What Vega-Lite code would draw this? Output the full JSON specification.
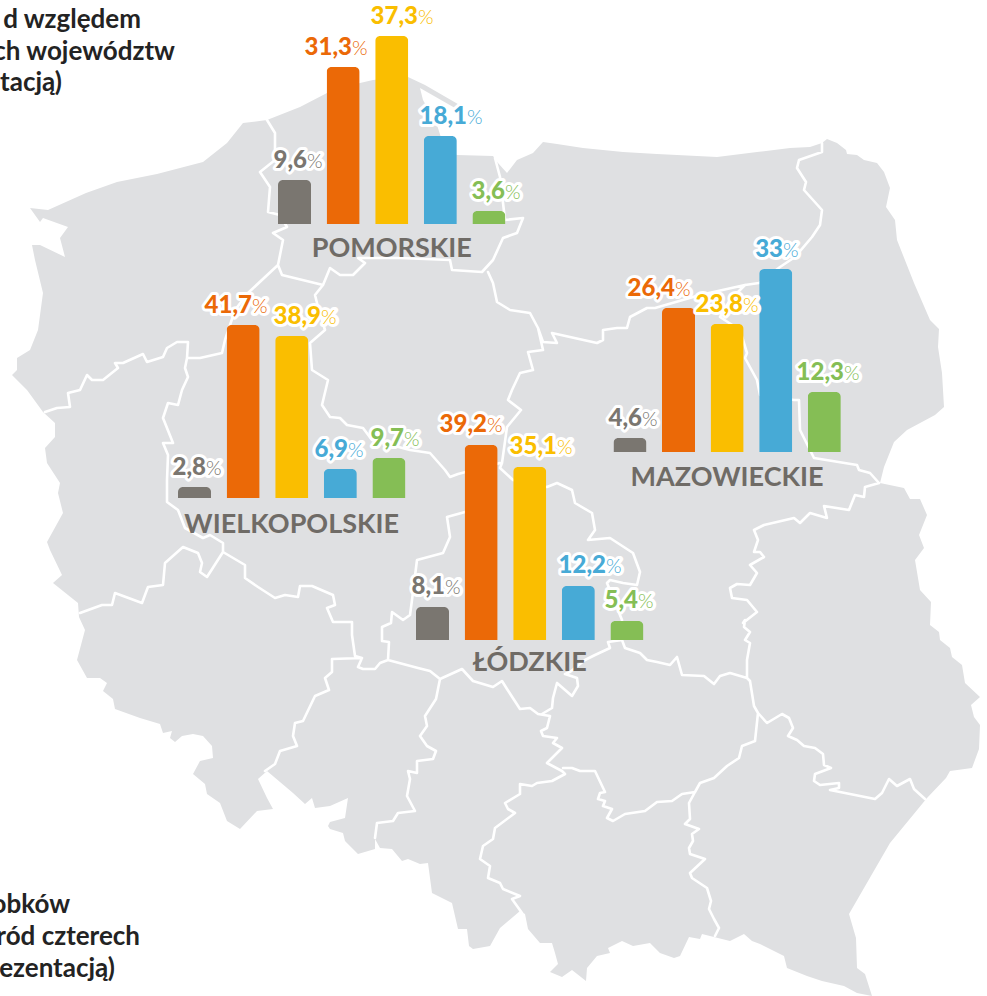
{"$schema":"https://vega.github.io/schema/vega-lite/v6.json","width":987,"height":996,"padding":0,"autosize":{"type":"none"},"background":"#ffffff","config":{"view":{"stroke":null},"text":{"font":"Lato"}},
"datasets":{"slupki":[
{"region":"POMORSKIE","kat":1,"wartosc":9.6,"tekst":"9,6"},{"region":"POMORSKIE","kat":2,"wartosc":31.3,"tekst":"31,3"},{"region":"POMORSKIE","kat":3,"wartosc":37.3,"tekst":"37,3"},{"region":"POMORSKIE","kat":4,"wartosc":18.1,"tekst":"18,1"},{"region":"POMORSKIE","kat":5,"wartosc":3.6,"tekst":"3,6"},
{"region":"WIELKOPOLSKIE","kat":1,"wartosc":2.8,"tekst":"2,8"},{"region":"WIELKOPOLSKIE","kat":2,"wartosc":41.7,"tekst":"41,7"},{"region":"WIELKOPOLSKIE","kat":3,"wartosc":38.9,"tekst":"38,9"},{"region":"WIELKOPOLSKIE","kat":4,"wartosc":6.9,"tekst":"6,9"},{"region":"WIELKOPOLSKIE","kat":5,"wartosc":9.7,"tekst":"9,7"},
{"region":"ŁÓDZKIE","kat":1,"wartosc":8.1,"tekst":"8,1"},{"region":"ŁÓDZKIE","kat":2,"wartosc":39.2,"tekst":"39,2"},{"region":"ŁÓDZKIE","kat":3,"wartosc":35.1,"tekst":"35,1"},{"region":"ŁÓDZKIE","kat":4,"wartosc":12.2,"tekst":"12,2"},{"region":"ŁÓDZKIE","kat":5,"wartosc":5.4,"tekst":"5,4"},
{"region":"MAZOWIECKIE","kat":1,"wartosc":4.6,"tekst":"4,6"},{"region":"MAZOWIECKIE","kat":2,"wartosc":26.4,"tekst":"26,4"},{"region":"MAZOWIECKIE","kat":3,"wartosc":23.8,"tekst":"23,8"},{"region":"MAZOWIECKIE","kat":4,"wartosc":33,"tekst":"33"},{"region":"MAZOWIECKIE","kat":5,"wartosc":12.3,"tekst":"12,3"}],
"opis":[{"nr":1,"linia":"d względem"},{"nr":2,"linia":"ch województw"},{"nr":3,"linia":"tacją)"},{"nr":4,"linia":"obków"},{"nr":5,"linia":"ród czterech"},{"nr":6,"linia":"ezentacją)"}]},
"resolve":{"scale":{"x":"independent","y":"independent"}},
"layer":[
{"data":{"values":[{"type":"Feature","properties":{"nazwa":"Polska"},"geometry":{"type":"Polygon","coordinates":[[[30,208],[48,210],[86,193],[117,182],[157,174],[203,162],[227,143],[243,123],[267,120],[300,107],[327,93],[360,83],[373,80],[408,77],[425,85],[463,107],[455,108],[420,88],[423,100],[437,125],[445,150],[457,155],[493,156],[498,163],[507,173],[517,160],[533,153],[543,142],[557,144],[583,148],[623,152],[657,154],[717,157],[757,152],[790,148],[810,147],[822,143],[827,139],[837,143],[846,150],[847,154],[857,155],[864,160],[877,163],[884,172],[890,188],[886,207],[895,220],[897,240],[914,283],[930,320],[939,329],[938,347],[942,373],[944,407],[935,415],[907,430],[894,442],[884,467],[880,483],[904,488],[910,499],[920,499],[927,515],[919,535],[924,548],[915,560],[920,590],[931,602],[930,625],[939,632],[940,640],[950,648],[952,657],[962,665],[965,683],[980,697],[971,705],[974,717],[980,725],[979,749],[972,768],[950,771],[946,778],[927,798],[890,843],[849,914],[856,938],[857,968],[865,974],[872,996],[857,993],[844,986],[822,981],[807,976],[787,968],[784,956],[760,944],[752,941],[744,934],[730,941],[702,934],[700,939],[689,937],[680,956],[674,958],[660,953],[650,943],[633,946],[622,941],[608,948],[610,953],[597,956],[587,968],[586,981],[572,970],[562,977],[550,972],[558,964],[555,953],[552,943],[540,943],[528,929],[525,914],[520,911],[500,928],[490,946],[473,949],[469,946],[467,929],[458,929],[452,903],[432,893],[428,863],[420,864],[408,859],[402,861],[392,849],[380,848],[375,839],[375,849],[358,854],[345,841],[343,833],[330,829],[328,826],[330,822],[345,818],[348,798],[330,806],[315,808],[312,798],[305,804],[293,793],[267,771],[258,779],[267,798],[273,809],[257,811],[240,829],[227,821],[220,803],[207,794],[205,784],[193,774],[200,761],[213,758],[212,746],[203,736],[193,734],[182,736],[175,742],[170,738],[172,731],[163,733],[160,724],[140,718],[115,709],[113,699],[103,691],[107,683],[100,678],[87,678],[77,660],[85,630],[79,617],[78,603],[53,583],[62,575],[50,550],[47,542],[63,513],[58,493],[60,483],[47,463],[45,448],[55,437],[55,423],[43,412],[27,390],[12,375],[17,370],[17,358],[30,350],[38,330],[43,293],[35,260],[32,245],[40,245],[65,257],[60,238],[68,227],[43,218],[40,222],[30,208]]]}}]},
"mark":{"type":"geoshape","fill":"#DFE0E2","stroke":null},"projection":{"type":"identity","scale":1,"translate":[0,0]}},
{"data":{"values":[{"type":"Feature","properties":{"nazwa":"granice"},"geometry":{"type":"MultiLineString","coordinates":[
[[267,120],[275,133],[275,160],[260,172],[270,187],[268,212],[280,215],[287,227],[273,233],[283,240],[278,265],[282,275],[323,285],[330,268],[340,275],[353,275],[365,263],[358,258],[400,258],[450,260],[452,270],[482,272],[493,260],[503,238],[517,233],[523,218],[505,220],[500,177],[495,158]],
[[323,285],[315,295],[318,307],[325,330],[310,343],[312,370],[328,380],[322,405],[330,417],[340,418],[347,425],[363,428],[372,440],[410,450],[430,453],[445,470],[450,477],[458,474],[500,463]],
[[488,272],[493,283],[497,302],[510,310],[530,313],[538,328],[543,350],[528,352],[533,370],[520,373],[512,390],[508,400],[521,410],[507,427],[502,463],[500,468],[513,480],[547,487],[557,483],[572,490],[575,503],[592,513],[595,530],[588,540],[610,538],[633,553],[640,572],[637,585],[623,583],[610,580],[607,583],[622,620],[622,640],[625,648],[640,653],[647,660],[657,662],[670,665],[677,657],[682,675],[704,676],[714,684],[720,676],[730,673],[747,678]],
[[538,328],[543,342],[557,343],[552,333],[597,343],[603,340],[603,330],[617,328],[627,328],[630,317],[647,308],[655,308],[700,295],[745,285],[759,283],[780,267],[795,257],[812,237],[820,225],[822,210],[804,190],[806,182],[797,168],[799,160],[822,152],[822,143]],
[[745,285],[730,300],[720,317],[740,330],[747,353],[745,358],[757,380],[760,395],[794,400],[799,400],[800,430],[814,458],[857,465],[859,470],[870,473],[879,483]],
[[45,412],[57,408],[70,407],[68,393],[80,390],[87,375],[92,380],[103,380],[118,368],[115,363],[123,363],[143,354],[147,362],[163,357],[167,348],[177,342],[188,342],[187,358],[200,358],[222,353],[225,340],[235,310],[248,293],[278,265]],
[[187,358],[185,368],[188,377],[182,390],[178,405],[168,403],[163,418],[173,443],[163,443],[168,455],[167,480],[167,502],[178,510],[185,528],[203,538],[210,535],[223,543],[223,552],[207,577],[200,572],[202,563],[198,553],[183,547],[165,563],[163,585],[148,587],[142,603],[115,593],[112,605],[102,605],[80,613]],
[[223,552],[245,565],[245,578],[258,587],[275,598],[285,595],[298,597],[300,586],[312,586],[333,595],[335,605],[327,608],[333,622],[352,622],[352,635],[355,656],[362,658],[358,667],[363,669],[375,669],[380,663],[388,660],[418,668],[430,671],[440,679],[462,669],[473,681],[493,687],[502,681],[507,689],[520,709],[530,708],[538,714],[550,716],[547,728],[541,731],[543,736],[557,738],[553,743],[562,748],[547,763],[562,771],[565,774],[552,781],[537,783],[532,786],[520,784],[520,794],[505,803],[508,809],[515,813],[495,828],[493,839],[483,846],[480,859],[490,866],[488,878],[500,883],[503,889],[520,896],[512,899],[522,913]],
[[362,658],[332,659],[332,672],[325,678],[329,690],[315,696],[303,721],[295,723],[293,736],[297,746],[280,751],[275,764],[265,771]],
[[388,660],[389,642],[382,641],[382,627],[391,623],[392,612],[403,620],[410,615],[412,600],[417,560],[443,553],[450,537],[447,517],[465,512]],
[[440,679],[436,699],[425,716],[427,726],[420,736],[427,746],[436,751],[433,759],[417,761],[417,773],[408,771],[410,779],[407,796],[415,811],[398,813],[393,821],[377,823],[375,838]],
[[565,674],[577,678],[578,686],[572,696],[557,683],[553,698],[552,708],[542,714]],
[[565,674],[570,672],[585,660],[595,655],[610,648],[608,642],[622,640]],
[[747,678],[747,660],[750,643],[745,640],[750,632],[744,627],[745,620],[743,623],[757,612],[747,600],[732,598],[730,588],[737,584],[750,585],[757,573],[750,565],[764,557],[760,552],[754,552],[758,540],[754,530],[764,525],[794,518],[800,523],[810,513],[827,518],[824,506],[849,510],[855,495],[864,497],[865,487],[879,483]],
[[657,802],[672,801],[682,794],[695,792],[689,803],[690,819],[685,824],[699,829],[692,834],[693,841],[689,848],[690,854],[705,859],[690,873],[692,878],[707,888],[711,901],[709,909],[714,919],[719,928],[715,936]],
[[657,802],[645,811],[625,814],[613,821],[607,818],[612,809],[603,806],[605,801],[598,799],[600,793],[605,792],[595,771],[580,771],[572,768],[563,768]],
[[695,792],[700,783],[714,778],[727,766],[739,758],[742,746],[755,741],[758,713],[754,706],[750,681],[747,678]],
[[758,713],[767,723],[782,714],[789,718],[793,728],[788,736],[797,740],[804,746],[815,748],[823,754],[824,765],[831,768],[815,774],[814,781],[820,785],[839,783],[839,788],[830,790],[875,799],[882,793],[889,779],[897,786],[910,779],[914,789],[925,799]]
]}}]},
"mark":{"type":"geoshape","filled":false,"stroke":"#ffffff","strokeWidth":2.6,"strokeJoin":"round","strokeCap":"round"},"projection":{"type":"identity","scale":1,"translate":[0,0]}},

{"data":{"name":"opis"},"mark":{"type":"text","align":"right","baseline":"alphabetic","font":"Lato","fontWeight":"bold","fontSize":26,"fill":"#232323"},
"encoding":{"text":{"field":"linia"},"x":{"field":"nr","type":"quantitative","axis":null,"scale":{"domain":[1,2,3,4,5,6],"range":[141,175,62,70,140,115]}},"y":{"field":"nr","type":"quantitative","axis":null,"scale":{"domain":[1,2,3,4,5,6],"range":[28,60,91,913,945,977]}}}},

{"data":{"name":"slupki"},"transform":[{"filter":"datum.region==='POMORSKIE'"}],
"encoding":{"x":{"field":"kat","type":"ordinal","axis":null,"scale":{"range":[278,505.4],"paddingInner":0.32,"paddingOuter":0}},"y":{"field":"wartosc","type":"quantitative","axis":null,"scale":{"domain":[0,3.6,9.6,18.1,31.3,37.3],"range":[224,211,180,136,67,36]}}},
"layer":[{"mark":{"type":"bar","cornerRadiusTopLeft":5,"cornerRadiusTopRight":5},"encoding":{"color":{"field":"kat","type":"nominal","legend":null,"scale":{"domain":[1,2,3,4,5],"range":["#7A7670","#EB6907","#FABE00","#47AAD6","#85BE55"]}}}},
{"transform":[{"filter":"datum.kat===3"}],"mark":{"type":"text","font":"Lato","fontWeight":"bold","fontSize":27,"fill":"#6F6B66","dy":33,"baseline":"alphabetic"},"encoding":{"text":{"field":"region"},"y":{"datum":0}}}]},
{"data":{"name":"slupki"},"transform":[{"filter":"datum.region==='POMORSKIE'"}],
"encoding":{"x":{"field":"kat","type":"quantitative","axis":null,"scale":{"domain":[1,2,3,4,5],"range":[307,352,418,467,505]}},"y":{"field":"wartosc","type":"quantitative","axis":null,"scale":{"domain":[0,3.6,9.6,18.1,31.3,37.3],"range":[224,211,180,136,67,36]}},"color":{"field":"kat","type":"nominal","legend":null,"scale":{"domain":[1,2,3,4,5],"range":["#7A7670","#EB6907","#FABE00","#47AAD6","#85BE55"]}}},
"layer":[
{"mark":{"type":"text","align":"right","baseline":"alphabetic","dy":-12,"font":"Lato","fontWeight":900,"fontSize":24,"stroke":"#ffffff","strokeWidth":6,"strokeJoin":"round"},"encoding":{"text":{"field":"tekst"}}},
{"mark":{"type":"text","align":"left","baseline":"alphabetic","dy":-12,"font":"Lato","fontSize":20,"stroke":"#ffffff","strokeWidth":6,"strokeJoin":"round"},"encoding":{"text":{"value":"%"}}},
{"mark":{"type":"text","align":"right","baseline":"alphabetic","dy":-12,"font":"Lato","fontWeight":900,"fontSize":24},"encoding":{"text":{"field":"tekst"}}},
{"mark":{"type":"text","align":"left","baseline":"alphabetic","dy":-12,"font":"Lato","fontWeight":300,"fontSize":20},"encoding":{"text":{"value":"%"}}}]},

{"data":{"name":"slupki"},"transform":[{"filter":"datum.region==='WIELKOPOLSKIE'"}],
"encoding":{"x":{"field":"kat","type":"ordinal","axis":null,"scale":{"range":[178,405.4],"paddingInner":0.32,"paddingOuter":0}},"y":{"field":"wartosc","type":"quantitative","axis":null,"scale":{"domain":[0,2.8,6.9,9.7,38.9,41.7],"range":[498,487,469,458,336,325]}}},
"layer":[{"mark":{"type":"bar","cornerRadiusTopLeft":5,"cornerRadiusTopRight":5},"encoding":{"color":{"field":"kat","type":"nominal","legend":null,"scale":{"domain":[1,2,3,4,5],"range":["#7A7670","#EB6907","#FABE00","#47AAD6","#85BE55"]}}}},
{"transform":[{"filter":"datum.kat===3"}],"mark":{"type":"text","font":"Lato","fontWeight":"bold","fontSize":27,"fill":"#6F6B66","dy":35,"baseline":"alphabetic"},"encoding":{"text":{"field":"region"},"y":{"datum":0}}}]},
{"data":{"name":"slupki"},"transform":[{"filter":"datum.region==='WIELKOPOLSKIE'"}],
"encoding":{"x":{"field":"kat","type":"quantitative","axis":null,"scale":{"domain":[1,2,3,4,5],"range":[206,252,321,348,404]}},"y":{"field":"wartosc","type":"quantitative","axis":null,"scale":{"domain":[0,2.8,6.9,9.7,38.9,41.7],"range":[498,487,469,458,336,325]}},"color":{"field":"kat","type":"nominal","legend":null,"scale":{"domain":[1,2,3,4,5],"range":["#7A7670","#EB6907","#FABE00","#47AAD6","#85BE55"]}}},
"layer":[
{"mark":{"type":"text","align":"right","baseline":"alphabetic","dy":-12,"font":"Lato","fontWeight":900,"fontSize":24,"stroke":"#ffffff","strokeWidth":6,"strokeJoin":"round"},"encoding":{"text":{"field":"tekst"}}},
{"mark":{"type":"text","align":"left","baseline":"alphabetic","dy":-12,"font":"Lato","fontSize":20,"stroke":"#ffffff","strokeWidth":6,"strokeJoin":"round"},"encoding":{"text":{"value":"%"}}},
{"mark":{"type":"text","align":"right","baseline":"alphabetic","dy":-12,"font":"Lato","fontWeight":900,"fontSize":24},"encoding":{"text":{"field":"tekst"}}},
{"mark":{"type":"text","align":"left","baseline":"alphabetic","dy":-12,"font":"Lato","fontWeight":300,"fontSize":20},"encoding":{"text":{"value":"%"}}}]},

{"data":{"name":"slupki"},"transform":[{"filter":"datum.region==='ŁÓDZKIE'"}],
"encoding":{"x":{"field":"kat","type":"ordinal","axis":null,"scale":{"range":[416,643.4],"paddingInner":0.32,"paddingOuter":0}},"y":{"field":"wartosc","type":"quantitative","axis":null,"scale":{"domain":[0,5.4,8.1,12.2,35.1,39.2],"range":[640,621,607,586,467,445]}}},
"layer":[{"mark":{"type":"bar","cornerRadiusTopLeft":5,"cornerRadiusTopRight":5},"encoding":{"color":{"field":"kat","type":"nominal","legend":null,"scale":{"domain":[1,2,3,4,5],"range":["#7A7670","#EB6907","#FABE00","#47AAD6","#85BE55"]}}}},
{"transform":[{"filter":"datum.kat===3"}],"mark":{"type":"text","font":"Lato","fontWeight":"bold","fontSize":27,"fill":"#6F6B66","dy":31,"baseline":"alphabetic"},"encoding":{"text":{"field":"region"},"y":{"datum":0}}}]},
{"data":{"name":"slupki"},"transform":[{"filter":"datum.region==='ŁÓDZKIE'"}],
"encoding":{"x":{"field":"kat","type":"quantitative","axis":null,"scale":{"domain":[1,2,3,4,5],"range":[445,487,557,606,638]}},"y":{"field":"wartosc","type":"quantitative","axis":null,"scale":{"domain":[0,5.4,8.1,12.2,35.1,39.2],"range":[640,621,607,586,467,445]}},"color":{"field":"kat","type":"nominal","legend":null,"scale":{"domain":[1,2,3,4,5],"range":["#7A7670","#EB6907","#FABE00","#47AAD6","#85BE55"]}}},
"layer":[
{"mark":{"type":"text","align":"right","baseline":"alphabetic","dy":-13,"font":"Lato","fontWeight":900,"fontSize":24,"stroke":"#ffffff","strokeWidth":6,"strokeJoin":"round"},"encoding":{"text":{"field":"tekst"}}},
{"mark":{"type":"text","align":"left","baseline":"alphabetic","dy":-13,"font":"Lato","fontSize":20,"stroke":"#ffffff","strokeWidth":6,"strokeJoin":"round"},"encoding":{"text":{"value":"%"}}},
{"mark":{"type":"text","align":"right","baseline":"alphabetic","dy":-13,"font":"Lato","fontWeight":900,"fontSize":24},"encoding":{"text":{"field":"tekst"}}},
{"mark":{"type":"text","align":"left","baseline":"alphabetic","dy":-13,"font":"Lato","fontWeight":300,"fontSize":20},"encoding":{"text":{"value":"%"}}}]},

{"data":{"name":"slupki"},"transform":[{"filter":"datum.region==='MAZOWIECKIE'"}],
"encoding":{"x":{"field":"kat","type":"ordinal","axis":null,"scale":{"range":[613.4,840.8],"paddingInner":0.32,"paddingOuter":0}},"y":{"field":"wartosc","type":"quantitative","axis":null,"scale":{"domain":[0,4.6,12.3,23.8,26.4,33],"range":[452,438,392,324,308,269]}}},
"layer":[{"mark":{"type":"bar","cornerRadiusTopLeft":5,"cornerRadiusTopRight":5},"encoding":{"color":{"field":"kat","type":"nominal","legend":null,"scale":{"domain":[1,2,3,4,5],"range":["#7A7670","#EB6907","#FABE00","#47AAD6","#85BE55"]}}}},
{"transform":[{"filter":"datum.kat===3"}],"mark":{"type":"text","font":"Lato","fontWeight":"bold","fontSize":27,"fill":"#6F6B66","dy":34,"baseline":"alphabetic"},"encoding":{"text":{"field":"region"},"y":{"datum":0}}}]},
{"data":{"name":"slupki"},"transform":[{"filter":"datum.region==='MAZOWIECKIE'"}],
"encoding":{"x":{"field":"kat","type":"quantitative","axis":null,"scale":{"domain":[1,2,3,4,5],"range":[642,675,743,783,844]}},"y":{"field":"wartosc","type":"quantitative","axis":null,"scale":{"domain":[0,4.6,12.3,23.8,26.4,33],"range":[452,438,392,324,308,269]}},"color":{"field":"kat","type":"nominal","legend":null,"scale":{"domain":[1,2,3,4,5],"range":["#7A7670","#EB6907","#FABE00","#47AAD6","#85BE55"]}}},
"layer":[
{"mark":{"type":"text","align":"right","baseline":"alphabetic","dy":-12,"font":"Lato","fontWeight":900,"fontSize":24,"stroke":"#ffffff","strokeWidth":6,"strokeJoin":"round"},"encoding":{"text":{"field":"tekst"}}},
{"mark":{"type":"text","align":"left","baseline":"alphabetic","dy":-12,"font":"Lato","fontSize":20,"stroke":"#ffffff","strokeWidth":6,"strokeJoin":"round"},"encoding":{"text":{"value":"%"}}},
{"mark":{"type":"text","align":"right","baseline":"alphabetic","dy":-12,"font":"Lato","fontWeight":900,"fontSize":24},"encoding":{"text":{"field":"tekst"}}},
{"mark":{"type":"text","align":"left","baseline":"alphabetic","dy":-12,"font":"Lato","fontWeight":300,"fontSize":20},"encoding":{"text":{"value":"%"}}}]}
]}
